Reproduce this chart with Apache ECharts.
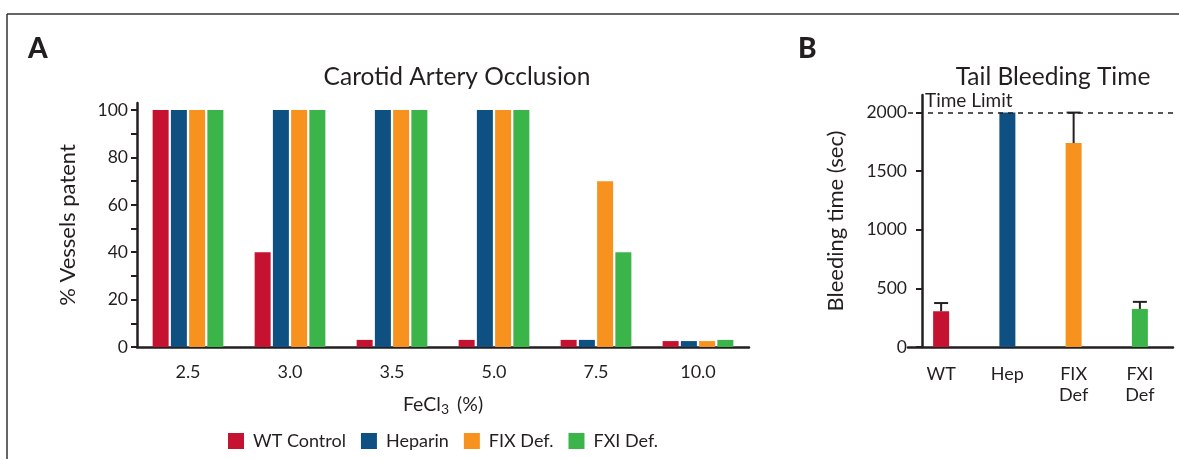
<!DOCTYPE html>
<html>
<head>
<meta charset="utf-8">
<script src="https://cdn.jsdelivr.net/npm/echarts@6/dist/echarts.min.js"></script>
<style>
html,body{margin:0;padding:0;background:#fff;}
#c{width:1179px;height:459px;}
</style>
</head>
<body>
<div id="c"></div>
<script>
// ---- Data ----
const fecl3Cats = ['2.5', '3.0', '3.5', '5.0', '7.5', '10.0'];
const seriesNames = ['WT Control', 'Heparin', 'FIX Def.', 'FXI Def.'];
const wtControl = [100, 40, 3, 3, 3, 2.5];
const heparin = [100, 100, 100, 100, 3, 2.5];
const fixDef = [100, 100, 100, 100, 70, 2.5];
const fxiDef = [100, 100, 100, 100, 40, 3];
const patentTicks = [0, 20, 40, 60, 80, 100];
const patentMinorTicks = [0, 10, 20, 30, 40, 50, 60, 70, 80, 90, 100];

const bleedCats = ['WT', 'Hep', 'FIX\nDef', 'FXI\nDef'];
const bleedMean = [305, 2000, 1740, 325];
const bleedUpper = [375, null, 2000, 385];
const bleedTicks = [0, 500, 1000, 1500, 2000];
const timeLimit = 2000;

// ---- Style ----
const colors = ['#c41230', '#0f5082', '#f7921e', '#3bb54a'];
const ink = '#231f20';
const font = 'Lato';

const chart = echarts.init(document.getElementById('c'), null, {renderer: 'canvas'});

const barSeriesA = [wtControl, heparin, fixDef, fxiDef].map((arr, i) => ({
  name: seriesNames[i],
  type: 'bar',
  xAxisIndex: 0, yAxisIndex: 0,
  data: arr,
  barWidth: 16,
  barGap: '14%',
  itemStyle: {color: colors[i]},
  animation: false
}));

const axisLineStyle = {color: ink, width: 2.5};

const option = {
  animation: false,
  textStyle: {fontFamily: font, color: ink},
  title: [
    {text: 'Carotid Artery Occlusion', left: 452, top: 60, textAlign: 'center',
     textStyle: {fontFamily: font, fontSize: 24.5, fontWeight: 'normal', color: ink}},
    {text: 'Tail Bleeding Time', left: 1048, top: 60, textAlign: 'center',
     textStyle: {fontFamily: font, fontSize: 24.5, fontWeight: 'normal', color: ink}},
    {text: 'A', left: 23, top: 30,
     textStyle: {fontFamily: font, fontSize: 28, fontWeight: 900, color: ink}},
    {text: 'B', left: 793, top: 30,
     textStyle: {fontFamily: font, fontSize: 28, fontWeight: 900, color: ink}}
  ],
  legend: {
    data: seriesNames,
    left: 223, top: 427,
    icon: 'rect',
    itemWidth: 16, itemHeight: 16,
    itemGap: 15,
    textStyle: {fontFamily: font, fontSize: 18, color: ink, padding: [0, 0, 0, 4]}
  },
  grid: [
    {left: 137, width: 612, top: 103, bottom: 112},
    {left: 908, width: 265, top: 95, bottom: 112}
  ],
  xAxis: [
    {
      gridIndex: 0, type: 'category', data: fecl3Cats,
      axisLine: {lineStyle: axisLineStyle},
      axisTick: {alignWithLabel: true, length: 6, lineStyle: {color: ink, width: 2}},
      axisLabel: {fontFamily: font, fontSize: 18, color: ink, margin: 16},
      name: 'FeCl{sub|3} (%)',
      nameLocation: 'middle', nameGap: 46,
      nameTextStyle: {fontFamily: font, fontSize: 19.5, color: ink,
        rich: {sub: {fontFamily: font, fontSize: 14, color: ink, verticalAlign: 'bottom', padding: [9, 3, 0, 0]}}}
    },
    {
      gridIndex: 1, type: 'category', data: bleedCats,
      axisLine: {lineStyle: axisLineStyle},
      axisTick: {alignWithLabel: true, length: 6, lineStyle: {color: ink, width: 2}},
      axisLabel: {fontFamily: font, fontSize: 18, color: ink, margin: 17, lineHeight: 21}
    }
  ],
  yAxis: [
    {
      gridIndex: 0, type: 'value', min: 0, max: 103,
      axisLine: {show: true, lineStyle: axisLineStyle},
      axisTick: {show: true, length: 6, lineStyle: {color: ink, width: 2}, customValues: patentMinorTicks},
      axisLabel: {fontFamily: font, fontSize: 17.5, color: ink, margin: 9, customValues: patentTicks},
      splitLine: {show: false},
      name: '% Vessels patent', nameLocation: 'middle', nameGap: 58,
      nameTextStyle: {fontFamily: font, fontSize: 22, color: ink}
    },
    {
      gridIndex: 1, type: 'value', min: 0, max: 2150, offset: -14,
      axisLine: {show: true, lineStyle: axisLineStyle},
      axisTick: {show: true, length: 6, lineStyle: {color: ink, width: 2}, customValues: bleedTicks},
      axisLabel: {fontFamily: font, fontSize: 17.5, color: ink, margin: 15, customValues: bleedTicks,
        formatter: v => String(v)},
      splitLine: {show: false},
      name: 'Bleeding time (sec)', nameLocation: 'middle', nameGap: 75,
      nameTextStyle: {fontFamily: font, fontSize: 22, color: ink}
    }
  ],
  series: barSeriesA.concat([
    {
      name: 'Bleeding time',
      type: 'bar',
      xAxisIndex: 1, yAxisIndex: 1,
      barWidth: 16,
      data: bleedMean.map((v, i) => ({value: v, itemStyle: {color: colors[i]}})),
      markLine: {
        silent: true,
        symbol: ['none', 'none'],
        lineStyle: {color: ink, type: [5, 5], width: 1.6},
        label: {show: true, position: 'insideStartTop', formatter: 'Time Limit',
          fontFamily: font, fontSize: 19, color: ink, distance: [17, 2]},
        data: [{yAxis: timeLimit}]
      }
    },
    {
      name: 'Error',
      type: 'custom',
      xAxisIndex: 1, yAxisIndex: 1,
      data: bleedUpper.map((u, i) => u == null ? null : [i, bleedMean[i], u]).filter(d => d),
      renderItem: function (params, api) {
        const base = api.coord([api.value(0), api.value(1)]);
        const top = api.coord([api.value(0), api.value(2)]);
        const style = {stroke: ink, lineWidth: 2};
        return {
          type: 'group',
          children: [
            {type: 'line', shape: {x1: base[0], y1: base[1], x2: top[0], y2: top[1]}, style: style},
            {type: 'line', shape: {x1: top[0] - 7, y1: top[1], x2: top[0] + 7, y2: top[1]}, style: style}
          ]
        };
      },
      z: 3
    }
  ]),
  graphic: [
    {type: 'line', shape: {x1: 7, y1: 14, x2: 1179, y2: 14}, style: {stroke: '#333', lineWidth: 1.5}},
    {type: 'line', shape: {x1: 7, y1: 14, x2: 7, y2: 459}, style: {stroke: '#333', lineWidth: 1.5}}
  ]
};

chart.setOption(option);
</script>
</body>
</html>
